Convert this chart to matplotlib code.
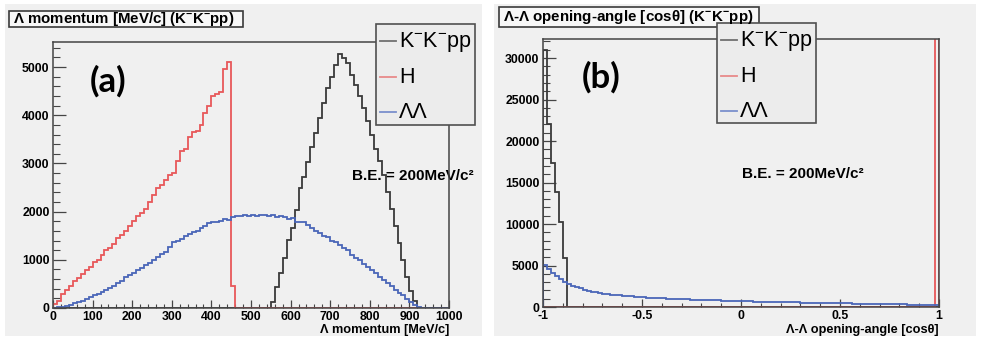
import numpy as np
import matplotlib
matplotlib.use("Agg")
import matplotlib.pyplot as plt
from matplotlib.patches import Rectangle
from matplotlib.lines import Line2D
from matplotlib.ticker import MultipleLocator, FuncFormatter

plt.rcParams['font.family'] = ['Liberation Sans', 'DejaVu Sans']
plt.rcParams['mathtext.fontset'] = 'custom'
plt.rcParams['mathtext.rm'] = 'Liberation Sans'
plt.rcParams['mathtext.bf'] = 'Liberation Sans:bold'
plt.rcParams['mathtext.it'] = 'Liberation Sans:italic'
plt.rcParams['axes.unicode_minus'] = False

# ---------------- data ----------------
series_names = ["$\\mathrm{K^{-}K^{-}pp}$", "H", "ΛΛ"]
series_colors = ["#3a3a3a", "#e8585a", "#4a66b8"]
legend_colors = ["#707070", "#e88a8a", "#7a8fcc"]

# panel (a): Lambda momentum, 100 bins of 10 MeV/c from 0 to 1000
mom_range = (0, 1000)
mom_black = [0]*55 + [130, 440, 720, 1030, 1410, 1660, 2030, 2490, 2720, 3035,
                      3346, 3623, 3935, 4246, 4557, 4800, 5050, 5280, 5180, 5090,
                      4840, 4630, 4390, 4150, 3880, 3600, 3300, 3050, 2750, 2400,
                      2050, 1700, 1350, 1000, 650, 350, 150] + [0]*8
mom_red = [80, 150, 300, 380, 450, 550, 620, 700, 780, 850,
           950, 1000, 1100, 1200, 1250, 1320, 1450, 1520, 1600, 1700,
           1800, 1900, 1980, 2050, 2200, 2350, 2500, 2560, 2650, 2750,
           2800, 3050, 3250, 3300, 3550, 3650, 3680, 3800, 4050, 4200,
           4400, 4450, 4480, 4950, 5100, 450] + [0]*54
mom_blue = [10, 20, 30, 50, 70, 100, 120, 150, 180, 220,
            260, 300, 340, 380, 420, 460, 510, 560, 640, 680,
            720, 780, 840, 900, 940, 1000, 1060, 1120, 1170, 1260,
            1380, 1400, 1440, 1500, 1540, 1580, 1600, 1650, 1700, 1760,
            1790, 1780, 1810, 1850, 1830, 1880, 1910, 1900, 1920, 1900,
            1930, 1910, 1940, 1920, 1900, 1920, 1890, 1900, 1880, 1840,
            1860, 1780, 1790, 1780, 1720, 1650, 1600, 1560, 1500, 1470,
            1400, 1360, 1300, 1250, 1200, 1110, 1040, 990, 920, 860,
            790, 720, 640, 580, 510, 450, 380, 320, 260, 190,
            130, 70, 20, 0, 0, 0, 0, 0, 0, 0]

# panel (b): Lambda-Lambda opening angle, 100 bins from -1 to 1
cos_range = (-1, 1)
cos_black = [31000, 22000, 17400, 13800, 10200, 5900] + [0]*94
cos_red = [0]*99 + [41000]
cos_blue = [5100, 4550, 4150, 3750, 3400, 3050, 2800, 2580, 2400, 2230,
            2080, 1960, 1850, 1760, 1680, 1610, 1550, 1490, 1440, 1390,
            1350, 1310, 1270, 1230, 1200, 1170, 1140, 1110, 1080, 1060,
            1030, 1010, 990, 970, 950, 930, 910, 895, 880, 860,
            845, 830, 815, 800, 785, 770, 755, 740, 725, 710,
            695, 685, 670, 662, 650, 640, 628, 620, 610, 598,
            590, 578, 572, 560, 552, 540, 533, 522, 515, 503,
            495, 486, 474, 468, 455, 447, 438, 428, 420, 410,
            402, 393, 385, 372, 366, 355, 348, 340, 330, 322,
            315, 305, 298, 290, 282, 275, 268, 258, 250, 240]

titles = ["Λ momentum [MeV/c] ($\\mathbf{K^{-}K^{-}pp}$)",
          "Λ-Λ opening-angle [cosθ] ($\\mathbf{K^{-}K^{-}pp}$)"]
xlabels = ["Λ momentum [MeV/c]", "Λ-Λ opening-angle [cosθ]"]
panel_tags = ["(a)", "(b)"]
be_text = "B.E. = 200MeV/c²"

# ---------------- figure ----------------
W, H = 981, 341
fig = plt.figure(figsize=(W/100, H/100), dpi=100)
fig.patch.set_facecolor("white")

def fx(x): return x / W
def fy(y): return 1 - y / H

# panel backgrounds
for (x0, x1) in [(5, 482), (494, 976)]:
    fig.patches.append(Rectangle((fx(x0), fy(336)), fx(x1) - fx(x0), fy(4) - fy(336),
                                 transform=fig.transFigure, facecolor="#f0f0f0",
                                 edgecolor="none", zorder=-20))

TICKFS = 8.8

def make_axes(box, xlim, ylim, xmaj, xmin, ymaj, ymin, fmt):
    l, t, r, b = box
    ax = fig.add_axes([fx(l), fy(b), fx(r) - fx(l), fy(t) - fy(b)])
    ax.set_facecolor("none")
    ax.set_xlim(*xlim)
    ax.set_ylim(*ylim)
    for s in ax.spines.values():
        s.set_color("#454545")
        s.set_linewidth(1.1)
        s.set_zorder(5)
    ax.xaxis.set_major_locator(MultipleLocator(xmaj))
    ax.xaxis.set_minor_locator(MultipleLocator(xmin))
    ax.yaxis.set_major_locator(MultipleLocator(ymaj))
    ax.yaxis.set_minor_locator(MultipleLocator(ymin))
    ax.xaxis.set_major_formatter(FuncFormatter(fmt))
    ax.tick_params(axis='x', which='major', direction='in', length=5.5, width=0.9,
                   color="#454545", pad=2.5, top=False, labelsize=TICKFS)
    ax.tick_params(axis='x', which='minor', direction='in', length=3, width=0.8,
                   color="#454545", top=False)
    ax.tick_params(axis='y', which='major', direction='in', length=9, width=0.9,
                   color="#454545", pad=2.5, right=False, labelsize=TICKFS)
    ax.tick_params(axis='y', which='minor', direction='in', length=5, width=0.8,
                   color="#454545", right=False)
    return ax

def fmt_a(v, p):
    return "%d" % round(v)

def fmt_b(v, p):
    if abs(v - round(v)) < 1e-9:
        return "%d" % round(v)
    return ("%.1f" % v)

boxes = [(53, 42, 449, 308), (543, 39, 939, 307)]
axA = make_axes(boxes[0], mom_range, (0, 5520), 100, 20, 1000, 200, fmt_a)
axB = make_axes(boxes[1], cos_range, (0, 32300), 0.5, 0.1, 5000, 1000, fmt_b)
for ax in (axA, axB):
    for lab in ax.get_xticklabels() + ax.get_yticklabels():
        lab.set_fontweight('bold')

panels = [
    (axA, mom_range, [mom_black, mom_red, mom_blue]),
    (axB, cos_range, [cos_black, cos_red, cos_blue]),
]
for ax, rng, vals in panels:
    for v, c in zip(vals, series_colors):
        edges = np.linspace(rng[0], rng[1], len(v) + 1)
        ax.stairs(v, edges, color=c, linewidth=1.3, baseline=0, zorder=3)

# x-axis titles (right-aligned)
fig.text(fx(449), fy(330), xlabels[0], ha='right', va='center', fontsize=9.2, fontweight='bold')
fig.text(fx(939), fy(330), xlabels[1], ha='right', va='center', fontsize=9.2, fontweight='bold')

# title boxes
title_boxes = [(9, 11, 243, 27), (499, 7, 759, 27)]
title_fs = [10.8, 10.9]
for (l, t, r, b), txt, fs in zip(title_boxes, titles, title_fs):
    fig.patches.append(Rectangle((fx(l), fy(b)), fx(r) - fx(l), fy(t) - fy(b),
                                 transform=fig.transFigure, facecolor="#f7f7f7",
                                 edgecolor="#3a3a3a", linewidth=1.2, zorder=6))
    fig.text(fx(l + 4), fy((t + b) / 2 + 0.5), txt, ha='left', va='center',
             fontsize=fs, fontweight='bold', zorder=7)

# legends
legend_boxes = [(376, 24, 475, 125), (717, 23, 816, 123)]
for (l, t, r, b) in legend_boxes:
    fig.patches.append(Rectangle((fx(l), fy(b)), fx(r) - fx(l), fy(t) - fy(b),
                                 transform=fig.transFigure, facecolor="#ececec",
                                 edgecolor="#505050", linewidth=1.2, zorder=6))
    for i, (name, col) in enumerate(zip(series_names, legend_colors)):
        yc = t + 17 + i * 35.5
        fig.lines.append(Line2D([fx(l + 4), fx(l + 20)], [fy(yc), fy(yc)],
                                transform=fig.transFigure, color=col, linewidth=1.3, zorder=7))
        fig.text(fx(l + 23), fy(yc + 1), name, ha='left', va='center',
                 fontsize=15.5, zorder=7)

# annotations (behind histograms)
fig.text(fx(352), fy(176), be_text, ha='left', va='center', fontsize=11,
         fontweight='bold', zorder=-5)
fig.text(fx(742), fy(174), be_text, ha='left', va='center', fontsize=11,
         fontweight='bold', zorder=-5)
fig.text(fx(90), fy(81), panel_tags[0], ha='left', va='center', fontsize=25,
         fontweight='bold', family='Lato', zorder=-5)
fig.text(fx(582), fy(77), panel_tags[1], ha='left', va='center', fontsize=25,
         fontweight='bold', family='Lato', zorder=-5)

fig.savefig("out.png", dpi=100)
